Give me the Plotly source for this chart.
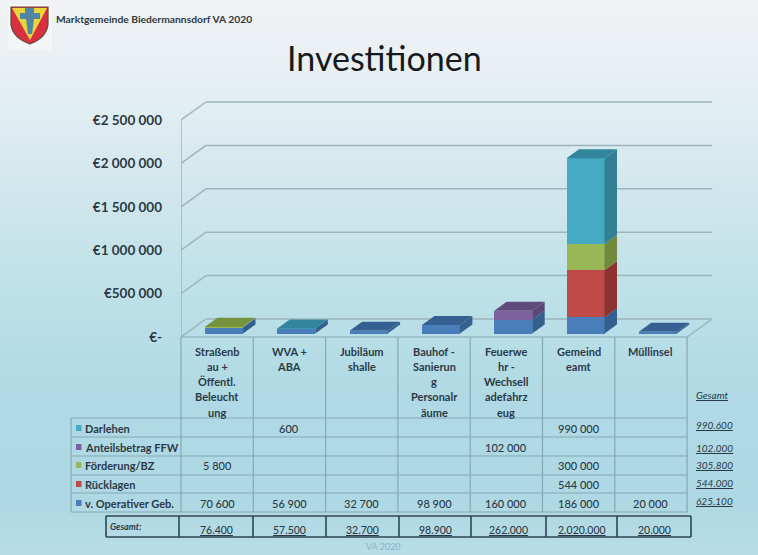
import numpy as np
import plotly.graph_objects as go

# ---------- data ----------
categories = ["Straßenb<br>au +<br>Öffentl.<br>Beleucht<br>ung", "WVA +<br>ABA", "Jubiläum<br>shalle",
              "Bauhof -<br>Sanierun<br>g<br>Personalr<br>äume", "Feuerwe<br>hr -<br>Wechsell<br>adefahrz<br>eug",
              "Gemeind<br>eamt", "Müllinsel"]
series_names = ["v. Operativer Geb.", "Rücklagen", "Förderung/BZ", "Anteilsbetrag FFW", "Darlehen"]
operativ = [70600, 56900, 32700, 98900, 160000, 186000, 20000]
ruecklagen = [0, 0, 0, 0, 0, 544000, 0]
foerderung = [5800, 0, 0, 0, 0, 300000, 0]
anteil = [0, 0, 0, 0, 102000, 0, 0]
darlehen = [0, 600, 0, 0, 0, 990000, 0]
all_series = [operativ, ruecklagen, foerderung, anteil, darlehen]
row_totals = ["625.100", "544.000", "305.800", "102.000", "990.600"]
col_totals = ["76.400", "57.500", "32.700", "98.900", "262.000", "2.020.000", "20.000"]
y_ticks = [0, 500000, 1000000, 1500000, 2000000, 2500000]
y_labels = ["€-", "€500 000", "€1 000 000", "€1 500 000", "€2 000 000", "€2 500 000"]

# ---------- styles ----------
front = ["#4a7ebb", "#be4b48", "#98b855", "#7d60a0", "#46aac5"]
side = ["#33608f", "#8c3230", "#71893f", "#5c4776", "#337f94"]
top = ["#376092", "#953735", "#76923c", "#604a7b", "#31859c"]
FONT = "Lato"
INK = "#2b3a46"
GRID = "#9db5ba"
PX_X = 72.3            # px per category
PX_Y = 86.8e-6         # px per euro
X0, Y0 = 181, 337      # pixel of category edge / zero line
XMAX, YMIN = 716, 100
BAR_W = 38 / PX_X
BAR_OFF = 24 / PX_X - 0.5   # left edge relative to category centre
LIFT = 3.5 / PX_Y
DX, DY = 12.5 / PX_X, 9 / PX_Y
WX, WY = 25 / PX_X, 18 / PX_Y

fig = go.Figure()

# background gradient on full-page pixel axes
grad_y = [4, 60, 120, 200, 300, 400, 500, 555]
grad_c = ["#f0f1f5", "#e9f0f3", "#dfedf1", "#cfe6ec", "#bde0e8", "#afd9e4", "#aed8e3", "#b8dde7"]
fig.add_trace(go.Heatmap(
    x=[8, 753], y=grad_y, z=[[v, v] for v in grad_y], zsmooth="best", showscale=False, hoverinfo="skip",
    zmin=4, zmax=555,
    colorscale=[[(v - 4) / 551, c] for v, c in zip(grad_y, grad_c)], xaxis="x", yaxis="y"))

# stacked front faces
x_pos = np.arange(len(categories), dtype=float)
cum = np.zeros(len(categories)) + LIFT
segments = []
for name, vals, fc in zip(series_names, all_series, front):
    vals = np.array(vals, dtype=float)
    fig.add_trace(go.Bar(x=x_pos, y=vals, base=cum.copy(), width=BAR_W, offset=BAR_OFF, name=name,
                         marker=dict(color=fc, line=dict(width=0)), xaxis="x2", yaxis="y2", showlegend=False))
    segments.append((cum.copy(), vals))
    cum = cum + vals

# 3-D side and top faces derived from the same values
for s, (bases, vals) in enumerate(segments):
    sx, sy, tx, ty = [], [], [], []
    for i, (b, v) in enumerate(zip(bases, vals)):
        if v <= 0:
            continue
        l = x_pos[i] + BAR_OFF
        r = l + BAR_W
        sx += [r, r + DX, r + DX, r, r, None]
        sy += [b, b + DY, b + v + DY, b + v, b, None]
        if not any(segments[k][1][i] > 0 for k in range(s + 1, len(segments))):
            tx += [l, r, r + DX, l + DX, l, None]
            ty += [b + v, b + v, b + v + DY, b + v + DY, b + v, None]
    for px, py, c in ((sx, sy, side[s]), (tx, ty, top[s])):
        if px:
            fig.add_trace(go.Scatter(x=px, y=py, mode="lines", fill="toself", fillcolor=c, line=dict(width=0, color=c),
                                     hoverinfo="skip", showlegend=False, xaxis="x2", yaxis="y2"))

shapes = []
# walls and floor
x_l, x_r = -0.5, len(categories) - 0.5
for v in y_ticks:
    shapes.append(dict(type="line", xref="x2", yref="y2", x0=x_l, y0=v, x1=x_l + WX, y1=v + WY, layer="below",
                       line=dict(color=GRID, width=1.5)))
    shapes.append(dict(type="line", xref="x2", yref="y2", x0=x_l + WX, y0=v + WY, x1=x_r + WX, y1=v + WY, layer="below",
                       line=dict(color=GRID, width=1.5)))
shapes.append(dict(type="line", xref="x2", yref="y2", x0=x_l, y0=0, x1=x_l, y1=y_ticks[-1], layer="below",
                   line=dict(color=GRID, width=1.5)))
shapes.append(dict(type="line", xref="x2", yref="y2", x0=x_r, y0=0, x1=x_r + WX, y1=WY, layer="below",
                   line=dict(color=GRID, width=1.5)))

# ---------- table (pixel axes) ----------
col_x = [X0 + PX_X * k for k in range(len(categories) + 1)]
row_y = [418, 437, 456, 475, 493, 512]
TBL = "#86a9b3"


def line(x0, y0, x1, y1, color=TBL, width=1.2):
    shapes.append(dict(type="line", xref="x", yref="y", x0=x0, y0=y0, x1=x1, y1=y1, line=dict(color=color, width=width)))


line(X0, 337, col_x[-1], 337)
for cx in col_x:
    line(cx, 337, cx, row_y[-1])
line(71, row_y[0], 71, row_y[-1])
for ry in row_y:
    line(71, ry, col_x[-1], ry)

ann = []


def text(x, y, s, size=11, color=INK, anchor="center", weight=None):
    ann.append(dict(xref="x", yref="y", x=x, y=y, text=s, showarrow=False, xanchor=anchor, yanchor="middle",
                    font=dict(family=FONT, size=size, color=color, weight=weight)))


for i, c in enumerate(categories):
    cx = (col_x[i] + col_x[i + 1]) / 2
    for k, part in enumerate(c.split("<br>")):
        text(cx, 351 + 15.3 * k, part, weight=700)

row_mid = [428, 447, 465, 484, 503]
order = [4, 3, 2, 1, 0]
right_y = [425, 448, 465, 483, 501]


def fmt(v):
    return f"{v:,}".replace(",", " ")


for r, s in enumerate(order):
    y = row_mid[r]
    shapes.append(dict(type="rect", xref="x", yref="y", x0=76, x1=81.5, y0=y - 3, y1=y + 3, fillcolor=front[s],
                       line=dict(width=0)))
    text(83, y, series_names[s], anchor="left", weight=700)
    for i, v in enumerate(all_series[s]):
        if v:
            text((col_x[i] + col_x[i + 1]) / 2, y, fmt(v), weight=500)
    text(694, right_y[r], f"<i><u>{row_totals[s]}</u></i>", size=10, anchor="left")
text(694, 395, "<i><u>Gesamt</u></i>", size=10, anchor="left")

# totals row
tot_x = [106, 179, 253, 326, 399, 471, 546, 617, 691]
DARK = "#2e4653"
line(106, 516, 691, 516, DARK, 1.6)
line(106, 537, 691, 537, DARK, 1.6)
for tx_ in tot_x:
    line(tx_, 516, tx_, 537, DARK, 1.6)
text(108, 526, "<i>Gesamt:</i>", size=9, anchor="left", weight=700)
for i, t in enumerate(col_totals):
    text((tot_x[i + 1] + tot_x[i + 2]) / 2, 530, f"<u>{t}</u>", size=10.5, weight=500)

# heading
text(384, 57, "Investitionen", size=34, color="#17191c")
text(54, 19, "Marktgemeinde Biedermannsdorf VA 2020", size=10.3, color="#30383f", anchor="left", weight=700)
text(383, 546.5, "VA 2020", size=9, color="#8db3c3")

# coat of arms
shapes += [
    dict(type="rect", xref="x", yref="y", x0=8, x1=52, y0=4, y1=50, fillcolor="#f4f5f7", line=dict(width=0)),
    dict(type="path", xref="x", yref="y", path="M 11 7 L 48 7 L 48 25 Q 46 38 30 44 Q 13 38 11 25 Z",
         fillcolor="#d8303f", line=dict(color="#5b4a3a", width=1.2)),
    dict(type="path", xref="x", yref="y", path="M 12 8 L 47 8 L 30 40 Z", fillcolor="#e8d63a", line=dict(width=0)),
    dict(type="path", xref="x", yref="y", path="M 25 8 L 34 8 L 34 13 L 40 13 L 40 19 L 34 19 L 32 34 L 28 34 L 26 19 L 20 19 L 20 13 L 25 13 Z",
         fillcolor="#4f86a8", line=dict(width=0)),
]

fig.update_layout(
    width=758, height=555, margin=dict(l=0, r=0, t=0, b=0, autoexpand=False), autosize=False,
    paper_bgcolor="#e6e7e9", plot_bgcolor="rgba(0,0,0,0)", barmode="overlay", bargap=0,
    shapes=shapes, annotations=ann,
    xaxis=dict(domain=[0, 1], range=[0, 758], visible=False, fixedrange=True),
    yaxis=dict(domain=[0, 1], range=[555, 0], visible=False, fixedrange=True),
    xaxis2=dict(domain=[X0 / 758, XMAX / 758], range=[-0.5, (XMAX - X0) / PX_X - 0.5], visible=False, anchor="y2",
                fixedrange=True),
    yaxis2=dict(domain=[(555 - Y0) / 555, (555 - YMIN) / 555], range=[0, (Y0 - YMIN) / PX_Y], anchor="x2",
                tickvals=y_ticks, ticktext=y_labels, showgrid=False, zeroline=False, showline=False, ticks="",
                ticklabelstandoff=18, tickfont=dict(family=FONT, size=13.5, color=INK, weight=700), fixedrange=True),
    showlegend=False,
)
fig.write_html("out.html", config={"displayModeBar": False},
               post_script="document.body.style.margin='0';document.body.style.overflow='hidden';")
